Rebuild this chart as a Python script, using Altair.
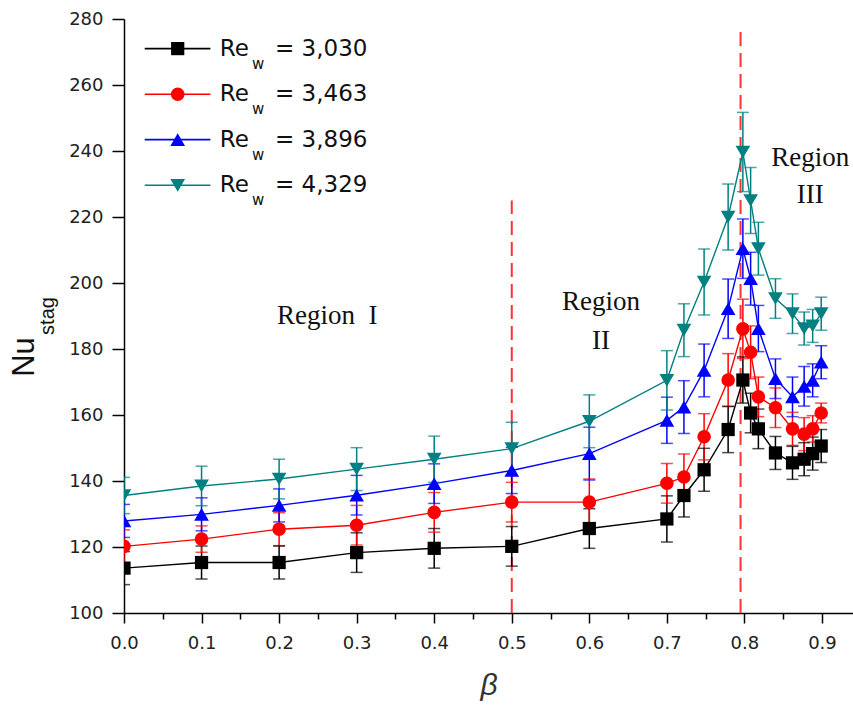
import altair as alt
import pandas as pd

# ---- data ----
beta = [0.0, 0.1, 0.2, 0.3, 0.4, 0.5, 0.6, 0.7, 0.722, 0.748, 0.779, 0.798,
        0.808, 0.818, 0.84, 0.862, 0.877, 0.888, 0.899]
series_names = ["3,030", "3,463", "3,896", "4,329"]
nu_3030 = [113.6, 115.3, 115.3, 118.3, 119.6, 120.2, 125.6, 128.5, 135.6, 143.4,
           155.6, 170.6, 160.6, 155.8, 148.5, 145.5, 146.6, 148.3, 150.6]
nu_3463 = [120.2, 122.4, 125.4, 126.6, 130.5, 133.6, 133.6, 139.3, 141.2, 153.4,
           170.6, 186.1, 179.0, 165.5, 162.2, 155.8, 154.2, 155.8, 160.6]
nu_3896 = [127.9, 129.9, 132.6, 135.7, 139.2, 143.2, 148.3, 158.4, 162.4, 173.5,
           192.2, 210.4, 201.3, 186.2, 171.0, 165.5, 168.7, 170.5, 176.0]
nu_4329 = [135.6, 138.5, 140.6, 143.6, 146.6, 149.8, 158.1, 170.5, 185.7, 200.3,
           220.0, 239.7, 225.0, 210.4, 195.3, 190.7, 186.2, 187.0, 190.7]
err_3030 = [5, 5, 5, 6, 6, 6, 6, 7, 6.5, 6.5, 7, 7, 6, 6, 5, 5, 5, 5, 5]
err_3463 = [5, 4, 5, 6, 6, 6, 7, 6, 7, 7, 8, 9, 8, 6, 6, 5, 5, 4, 3]
err_3896 = [5, 5, 5, 6, 6, 7, 8, 7, 8, 8, 9, 9, 8, 7, 6, 6, 6, 5, 5]
err_4329 = [5.5, 6, 6, 6.5, 7, 8, 8, 9, 8, 10, 10, 12, 10, 8, 6, 6, 5, 5, 5]

divider_beta = [0.5, 0.795]
divider_top = [225, 278]

region_text = ["Region\u00a0\u00a0I", "Region", "II", "Region", "III"]
region_beta = [0.262, 0.615, 0.615, 0.885, 0.885]
region_nu = [189.9, 194.2, 182.4, 237.8, 226.6]

x_ticks = [round(i * 0.05, 2) for i in range(19)]
y_ticks = list(range(100, 281, 10))

colors = ["#000000", "#ff0000", "#0000ff", "#008080"]
shapes = ["square", "circle", "triangle-up", "triangle-down"]
sizes = [175, 185, 215, 215]

rows = []
for name, vals, errs in zip(series_names, [nu_3030, nu_3463, nu_3896, nu_4329],
                            [err_3030, err_3463, err_3896, err_4329]):
    for b, v, e in zip(beta, vals, errs):
        rows.append({"series": name, "beta": b, "nu": v, "lo": v - e, "hi": v + e})
df = pd.DataFrame(rows)

div_df = pd.DataFrame({"beta": divider_beta, "bottom": [100, 100], "top": divider_top})
reg_df = pd.DataFrame({"beta": region_beta, "nu": region_nu, "t": region_text})

W, H = 729, 594
xs = alt.Scale(domain=[0, 0.94], nice=False, zero=False)
ys = alt.Scale(domain=[100, 280], nice=False, zero=False)
cs = alt.Scale(domain=series_names, range=colors)

FONT = "DejaVu Sans"
x_major = "abs(datum.value*10 - round(datum.value*10)) < 0.001"
y_major = "datum.value % 20 == 0"

x_axis = alt.Axis(
    values=x_ticks,
    labelExpr=f"{x_major} ? format(datum.value, '.1f') : ''",
    tickSize={"condition": {"test": x_major, "value": 10}, "value": 6},
    tickColor="black", tickWidth=1.5, domainColor="black", domainWidth=1.5,
    labelFont=FONT, labelFontSize=18, labelColor="#222222", labelPadding=11,
    grid=False, title="β", titleFont="Liberation Sans", titleFontStyle="italic",
    titleFontWeight="normal", titleFontSize=30, titlePadding=18, titleColor="#333333",
    labelFlush=False, labelOverlap=False,
)
y_axis = alt.Axis(
    values=y_ticks,
    labelExpr=f"{y_major} ? format(datum.value, 'd') : ''",
    tickSize={"condition": {"test": y_major, "value": 12}, "value": 7},
    tickColor="black", tickWidth=1.5, domainColor="black", domainWidth=1.5,
    labelFont=FONT, labelFontSize=18, labelColor="#222222", labelPadding=9,
    grid=False, title=None, labelFlush=False, labelOverlap=False,
)

base = alt.Chart(df)
x_enc = alt.X("beta:Q", scale=xs, axis=x_axis)
y_enc = alt.Y("nu:Q", scale=ys, axis=y_axis)
col = alt.Color("series:N", scale=cs, legend=None)

lines = base.mark_line(strokeWidth=1.4, clip=True).encode(x=x_enc, y=y_enc, color=col, detail="series:N")
bars = base.mark_rule(strokeWidth=1.5, clip=True).encode(
    x="beta:Q", y=alt.Y("lo:Q", scale=ys), y2="hi:Q", color=col)
cap_lo = base.mark_tick(orient="horizontal", size=12, thickness=1.5, clip=True).encode(
    x="beta:Q", y=alt.Y("lo:Q", scale=ys), color=col)
cap_hi = base.mark_tick(orient="horizontal", size=12, thickness=1.5, clip=True).encode(
    x="beta:Q", y=alt.Y("hi:Q", scale=ys), color=col)

points = []
for name, c, s, sz in zip(series_names, colors, shapes, sizes):
    points.append(
        alt.Chart(df).transform_filter(alt.datum.series == name)
        .mark_point(shape=s, filled=True, color=c, size=sz, opacity=1, clip=True)
        .encode(x="beta:Q", y=alt.Y("nu:Q", scale=ys))
    )

dividers = alt.Chart(div_df).mark_rule(color="#ff3333", strokeWidth=2, strokeDash=[14, 7]).encode(
    x="beta:Q", y=alt.Y("bottom:Q", scale=ys), y2="top:Q")

regions = alt.Chart(reg_df).mark_text(font="Liberation Serif", fontSize=27, color="#111111",
                                      baseline="middle", align="center").encode(
    x="beta:Q", y=alt.Y("nu:Q", scale=ys), text="t:N")

# y-axis title with subscript
one = pd.DataFrame({"a": [0]})
nu_title = alt.Chart(one).mark_text(text="Nu", angle=270, font="Liberation Sans", fontSize=31,
                                     color="#111111", baseline="middle", align="center").encode(
    x=alt.value(-99), y=alt.value(338))
stag_title = alt.Chart(one).mark_text(text="stag", angle=270, font="Liberation Sans", fontSize=20,
                                       color="#111111", baseline="middle", align="center").encode(
    x=alt.value(-76), y=alt.value(297))

# custom legend
legend_layers = []
row_y = [29.6, 75.3, 120.6, 166.3]
for name, c, s, sz, ry in zip(series_names, colors, shapes, sizes, row_y):
    legend_layers.append(alt.Chart(one).mark_rule(color=c, strokeWidth=1.6).encode(
        x=alt.value(20.7), x2=alt.value(86.4), y=alt.value(ry)))
    legend_layers.append(alt.Chart(one).mark_point(shape=s, filled=True, color=c, size=sz, opacity=1).encode(
        x=alt.value(53.7), y=alt.value(ry)))
    legend_layers.append(alt.Chart(one).mark_text(text="Re", font=FONT, fontSize=23, color="#111111",
                                                  align="left", baseline="middle").encode(
        x=alt.value(95.7), y=alt.value(ry)))
    legend_layers.append(alt.Chart(one).mark_text(text="w", font=FONT, fontSize=15, color="#111111",
                                                  align="left", baseline="middle").encode(
        x=alt.value(128), y=alt.value(ry + 15)))
    legend_layers.append(alt.Chart(one).mark_text(text="= " + name, font=FONT, fontSize=23, color="#111111",
                                                  align="left", baseline="middle").encode(
        x=alt.value(151), y=alt.value(ry)))

chart = alt.layer(
    dividers, lines, bars, cap_lo, cap_hi, *points, regions, nu_title, stag_title, *legend_layers
).properties(
    width=W, height=H,
    autosize=alt.AutoSizeParams(type="none"),
    padding={"left": 124, "top": 19, "right": 0, "bottom": 97},
    background="white",
).configure_view(stroke=None)

chart.save("out.html", embed_options={"renderer": "svg", "actions": False})
